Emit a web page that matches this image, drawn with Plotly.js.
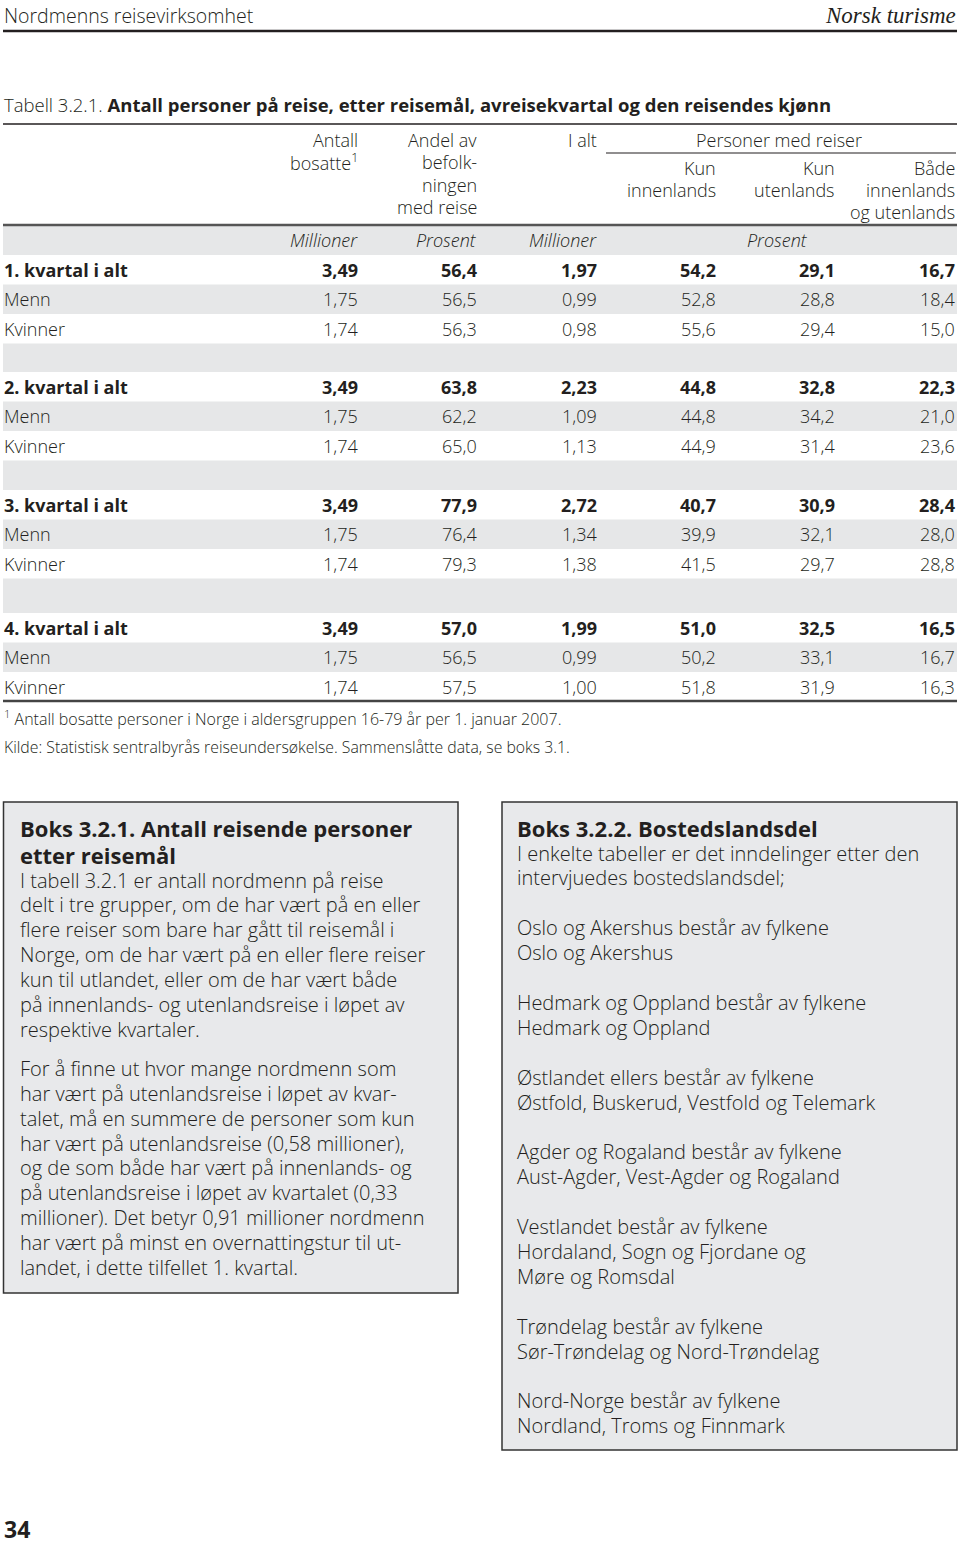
<!DOCTYPE html>
<html>
<head>
<meta charset="utf-8">
<script src="https://cdn.plot.ly/plotly-3.0.1.min.js"></script>
<style>
  body { margin: 0; background: #fff; }
  #page { width: 960px; height: 1545px; }
</style>
</head>
<body>
<div id="page"></div>
<script>
// Table data
const rowNames = [
    '1. kvartal i alt', 'Menn', 'Kvinner',
    '2. kvartal i alt', 'Menn', 'Kvinner',
    '3. kvartal i alt', 'Menn', 'Kvinner',
    '4. kvartal i alt', 'Menn', 'Kvinner'
];
const antallBosatte = [3.49, 1.75, 1.74, 3.49, 1.75, 1.74, 3.49, 1.75, 1.74, 3.49, 1.75, 1.74];
const andelMedReise = [56.4, 56.5, 56.3, 63.8, 62.2, 65.0, 77.9, 76.4, 79.3, 57.0, 56.5, 57.5];
const iAlt = [1.97, 0.99, 0.98, 2.23, 1.09, 1.13, 2.72, 1.34, 1.38, 1.99, 0.99, 1.00];
const kunInnenlands = [54.2, 52.8, 55.6, 44.8, 44.8, 44.9, 40.7, 39.9, 41.5, 51.0, 50.2, 51.8];
const kunUtenlands = [29.1, 28.8, 29.4, 32.8, 34.2, 31.4, 30.9, 32.1, 29.7, 32.5, 33.1, 31.9];
const badeInnOgUt = [16.7, 18.4, 15.0, 22.3, 21.0, 23.6, 28.4, 28.0, 28.8, 16.5, 16.7, 16.3];
const unitLabels = ['Millioner', 'Prosent', 'Millioner', '', 'Prosent', ''];

const box1Title = ['Boks 3.2.1. Antall reisende personer', 'etter reisemål'];
const box1Lines = [
    'I tabell 3.2.1 er antall nordmenn på reise',
    'delt i tre grupper, om de har vært på en eller',
    'flere reiser som bare har gått til reisemål i',
    'Norge, om de har vært på en eller flere reiser',
    'kun til utlandet, eller om de har vært både',
    'på innenlands- og utenlandsreise i løpet av',
    'respektive kvartaler.',
    null,
    'For å finne ut hvor mange nordmenn som',
    'har vært på utenlandsreise i løpet av kvar-',
    'talet, må en summere de personer som kun',
    'har vært på utenlandsreise (0,58 millioner),',
    'og de som både har vært på innenlands- og',
    'på utenlandsreise i løpet av kvartalet (0,33',
    'millioner). Det betyr 0,91 millioner nordmenn',
    'har vært på minst en overnattingstur til ut-',
    'landet, i dette tilfellet 1. kvartal.'
];
const box2Title = ['Boks 3.2.2. Bostedslandsdel'];
const box2Lines = [
    'I enkelte tabeller er det inndelinger etter den',
    'intervjuedes bostedslandsdel;',
    '',
    'Oslo og Akershus består av fylkene',
    'Oslo og Akershus',
    '',
    'Hedmark og Oppland består av fylkene',
    'Hedmark og Oppland',
    '',
    'Østlandet ellers består av fylkene',
    'Østfold, Buskerud, Vestfold og Telemark',
    '',
    'Agder og Rogaland består av fylkene',
    'Aust-Agder, Vest-Agder og Rogaland',
    '',
    'Vestlandet består av fylkene',
    'Hordaland, Sogn og Fjordane og',
    'Møre og Romsdal',
    '',
    'Trøndelag består av fylkene',
    'Sør-Trøndelag og Nord-Trøndelag',
    '',
    'Nord-Norge består av fylkene',
    'Nordland, Troms og Finnmark'
];

const FONT = 'Open Sans, Noto Sans, sans-serif';
const INK = '#231f20';
const GREY = '#e6e7e8';

// column right edges and row geometry
const colRight = [359, 478, 598, 717, 836, 956];
const blockTop = [255, 372, 490, 613];
const ROW_H = 29.5;

const fmt = (v, d) => v.toFixed(d).replace('.', ',');

const shapes = [];
const annotations = [];

function rect(x0, y0, x1, y1, fill, line) {
    shapes.push({
        type: 'rect', xref: 'x', yref: 'y', x0, y0, x1, y1,
        fillcolor: fill, line: line || { width: 0 }, layer: 'below'
    });
}
function hline(x0, x1, y, width, color) {
    shapes.push({
        type: 'line', xref: 'x', yref: 'y', x0, x1, y0: y, y1: y,
        line: { color: color || INK, width }
    });
}
function text(x, y, t, opts) {
    opts = opts || {};
    annotations.push({
        xref: 'x', yref: 'y', x, y, text: t, showarrow: false,
        xanchor: opts.anchor || 'left', yanchor: 'middle', borderpad: 0,
        font: {
            family: opts.family || FONT, size: opts.size || 18,
            color: opts.color || INK, weight: opts.weight || 300
        }
    });
}

// page header
text(3, 15, 'Nordmenns reisevirksomhet', { size: 19.5 });
text(957, 15, '<i>Norsk turisme</i>', { anchor: 'right', size: 23, family: 'Liberation Serif, serif', weight: 400 });
hline(3, 957, 31, 2.5);

// table title
text(3, 104, 'Tabell 3.2.1. <b>Antall personer på reise, etter reisemål, avreisekvartal og den reisendes kjønn</b>', { size: 18.5 });
hline(3, 957, 124, 1.5);

// column headers
const headerLines = [
    [[140, 'Antall'], [162, 'bosatte<sup>1</sup>']],
    [[140, 'Andel av'], [162, 'befolk-'], [185, 'ningen'], [207, 'med reise']],
    [[140, 'I alt']],
    [[168, 'Kun'], [190, 'innenlands']],
    [[168, 'Kun'], [190, 'utenlands']],
    [[168, 'Både'], [190, 'innenlands'], [212, 'og utenlands']]
];
headerLines.forEach((lines, c) => {
    lines.forEach(([y, t]) => text(colRight[c], y, t, { anchor: 'right' }));
});
text(779, 140, 'Personer med reiser', { anchor: 'center' });
hline(606, 956, 153, 1.2);
hline(3, 957, 225, 2.5, '#555');

// unit row
rect(3, 226, 957, 255, GREY);
unitLabels.forEach((u, c) => {
    if (!u) return;
    if (c === 4) text(777, 240, '<i>' + u + '</i>', { anchor: 'center' });
    else text(colRight[c], 240, '<i>' + u + '</i>', { anchor: 'right' });
});

// data rows
const columns = [
    [antallBosatte, 2], [andelMedReise, 1], [iAlt, 2],
    [kunInnenlands, 1], [kunUtenlands, 1], [badeInnOgUt, 1]
];
rowNames.forEach((name, i) => {
    const block = Math.floor(i / 3);
    const k = i % 3;
    const top = blockTop[block] + k * ROW_H;
    const yc = top + ROW_H / 2;
    if (k === 1) rect(3, top, 957, top + ROW_H, GREY);
    const bold = k === 0;
    const wrap = s => bold ? '<b>' + s + '</b>' : s;
    text(3, yc, wrap(name));
    columns.forEach(([arr, d], c) => text(colRight[c], yc, wrap(fmt(arr[i], d)), { anchor: 'right' }));
    // blank grey separator after each block
    if (k === 2 && block < 3) rect(3, top + ROW_H, 957, blockTop[block + 1], GREY);
});
hline(3, 957, 701, 2.5, '#444');

// footnotes
text(3, 718, '<sup>1</sup> Antall bosatte personer i Norge i aldersgruppen 16-79 år per 1. januar 2007.', { size: 16 });
text(3, 747, 'Kilde: Statistisk sentralbyrås reiseundersøkelse. Sammenslåtte data, se boks 3.1.', { size: 15.8 });

// text boxes
const BOX_FILL = '#e8e9eb';
const BOX_LINE = { color: '#333', width: 1.5 };
rect(3.5, 802, 458, 1293, BOX_FILL, BOX_LINE);
rect(502, 802, 957, 1450, BOX_FILL, BOX_LINE);

const LH = 24.9;
box1Title.forEach((t, i) => text(19, 828 + i * 27, '<b>' + t + '</b>', { size: 22 }));
let y = 880;
box1Lines.forEach(t => {
    if (t === null) { y += 14; return; }
    text(19, y, t, { size: 20 });
    y += LH;
});
box2Title.forEach((t, i) => text(516, 828 + i * 27, '<b>' + t + '</b>', { size: 22 }));
box2Lines.forEach((t, i) => {
    if (t) text(516, 853 + i * LH, t, { size: 20 });
});

// page number
text(3, 1529, '<b>34</b>', { size: 23 });

const layout = {
    width: 960,
    height: 1545,
    margin: { l: 0, r: 0, t: 0, b: 0 },
    paper_bgcolor: '#fff',
    plot_bgcolor: '#fff',
    showlegend: false,
    xaxis: { range: [0, 960], visible: false, fixedrange: true },
    yaxis: { range: [1545, 0], visible: false, fixedrange: true },
    shapes,
    annotations
};

Plotly.newPlot('page', [], layout, { staticPlot: true });
</script>
</body>
</html>
